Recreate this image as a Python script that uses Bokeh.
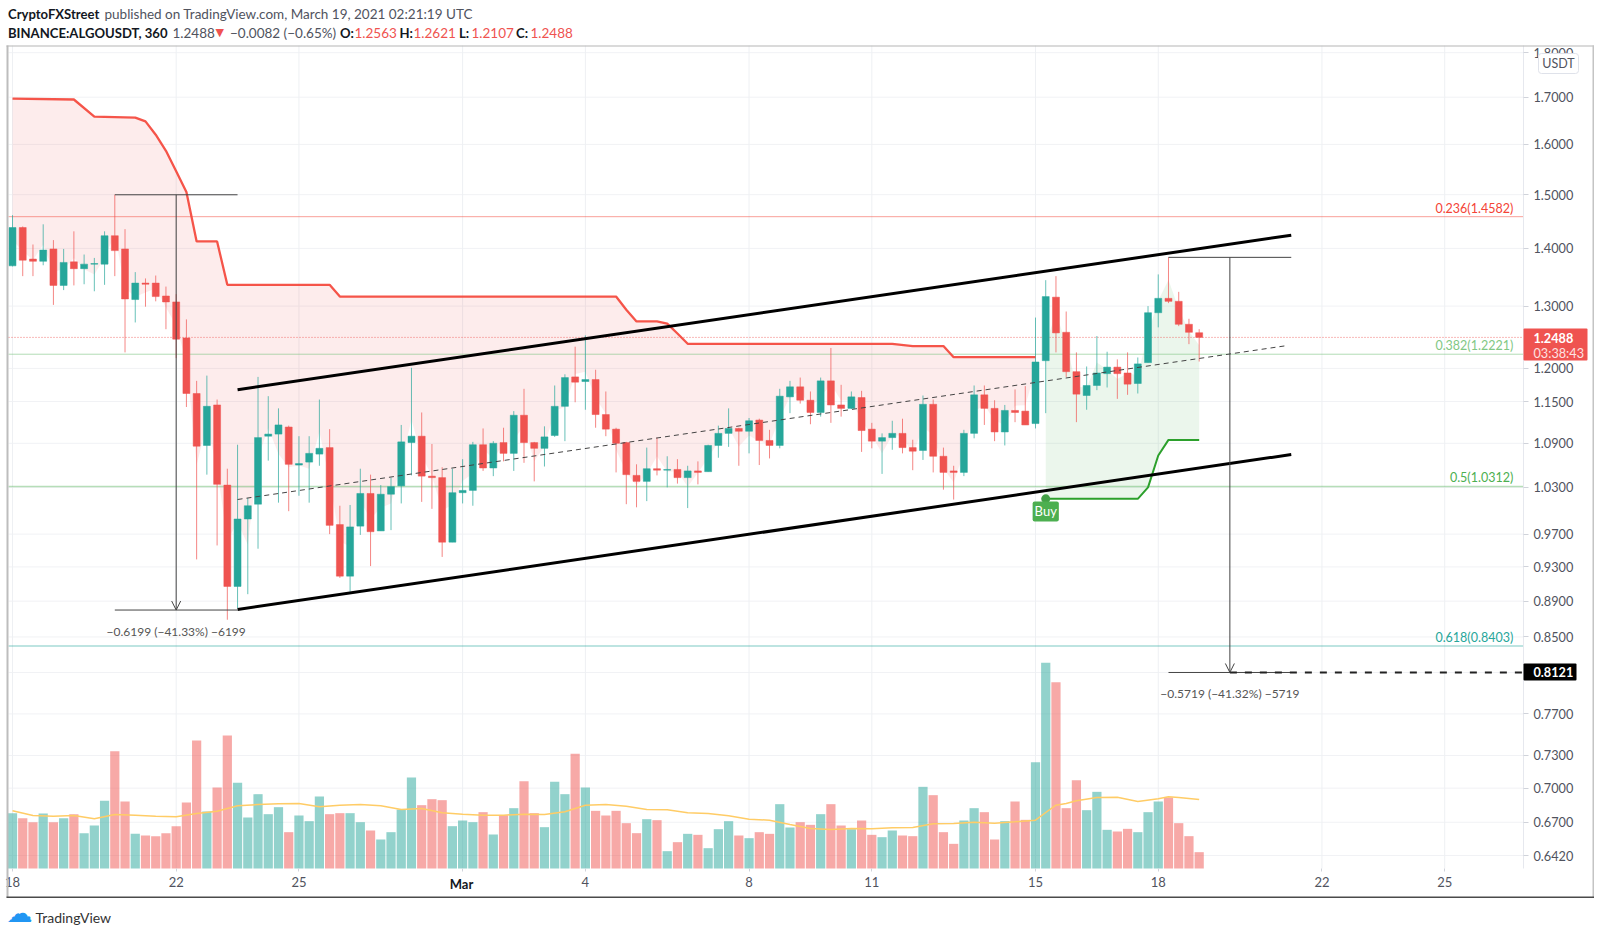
import math
from bokeh.plotting import figure
from bokeh.embed import file_html
from bokeh.resources import INLINE
from bokeh.models import (Range1d, LinearScale, FixedTicker, PrintfTickFormatter, Label,
                          BoxAnnotation, Arrow, OpenHead, ColumnDataSource)

opens = [1.369,1.438,1.381,1.377,1.399,1.335,1.376,1.364,1.372,1.372,
1.423,1.399,1.311,1.339,1.339,1.317,1.307,1.248,1.162,1.087,
1.145,1.033,.907,.989,1.008,1.100,1.103,1.113,1.060,1.064,
1.075,1.084,.982,.919,.980,1.022,.974,1.021,1.032,1.091,
1.100,1.045,1.043,.960,1.023,1.026,1.088,1.056,1.091,1.076,
1.130,1.091,1.083,1.101,1.143,1.187,1.180,1.183,1.131,1.110,
1.091,1.046,1.038,1.055,1.053,1.054,1.043,1.052,1.051,1.087,
1.104,1.111,1.107,1.123,1.094,1.087,1.157,1.172,1.152,1.134,
1.181,1.145,1.140,1.156,1.110,1.093,1.098,1.104,1.084,1.080,
1.146,1.072,1.052,1.050,1.104,1.160,1.140,1.106,1.137,1.136,
1.118,1.212,1.315,1.257,1.195,1.159,1.174,1.192,1.202,1.193,
1.177,1.209,1.289,1.313,1.308,1.270,1.2563]
highs = [1.461,1.440,1.407,1.444,1.415,1.399,1.431,1.389,1.383,1.431,
1.500,1.435,1.358,1.347,1.352,1.333,1.320,1.278,1.181,1.189,
1.153,1.055,1.088,1.016,1.187,1.158,1.140,1.115,1.100,1.100,
1.153,1.110,1.006,1.007,1.055,1.047,1.033,1.043,1.116,1.201,
1.134,1.089,1.057,1.055,1.068,1.092,1.111,1.093,1.112,1.136,
1.169,1.092,1.114,1.174,1.191,1.234,1.252,1.198,1.165,1.112,
1.092,1.061,1.084,1.098,1.072,1.068,1.059,1.065,1.088,1.115,
1.140,1.112,1.126,1.125,1.109,1.169,1.181,1.186,1.165,1.186,
1.232,1.175,1.165,1.166,1.119,1.104,1.122,1.125,1.095,1.159,
1.153,1.084,1.059,1.109,1.174,1.174,1.152,1.145,1.168,1.173,
1.281,1.344,1.351,1.291,1.225,1.203,1.251,1.226,1.214,1.225,
1.217,1.300,1.354,1.384,1.324,1.279,1.2621]
lows = [1.368,1.351,1.351,1.370,1.302,1.327,1.335,1.337,1.325,1.336,
1.351,1.225,1.273,1.299,1.308,1.262,1.216,1.142,.939,1.047,
.956,.869,.882,.898,.952,1.066,1.010,.999,1.019,1.010,
1.059,.970,.917,.901,.969,.931,.974,.975,1.009,1.046,
1.011,1.002,.942,.960,1.009,1.006,1.052,1.045,1.065,1.052,
1.063,1.038,1.058,1.099,1.093,1.149,1.138,1.112,1.100,1.050,
1.008,1.004,1.012,1.046,1.030,1.035,1.003,1.034,1.051,1.070,
1.085,1.059,1.076,1.060,1.069,1.083,1.133,1.147,1.117,1.128,
1.119,1.128,1.139,1.078,1.083,1.048,1.081,1.076,1.053,1.067,
1.050,1.027,1.014,1.045,1.097,1.116,1.093,1.087,1.120,1.116,
1.111,1.133,1.225,1.187,1.120,1.138,1.167,1.171,1.154,1.160,
1.162,1.209,1.265,1.305,1.267,1.238,1.2107]
closes = [1.438,1.379,1.377,1.397,1.335,1.375,1.364,1.372,1.373,1.423,
1.396,1.312,1.339,1.337,1.316,1.307,1.246,1.162,1.086,1.143,
1.034,.907,.989,1.006,1.098,1.103,1.116,1.061,1.062,1.076,
1.083,.981,.919,.979,1.022,.973,1.021,1.031,1.092,1.100,
1.045,1.043,.960,1.023,1.026,1.088,1.056,1.090,1.076,1.130,
1.091,1.083,1.099,1.143,1.186,1.179,1.183,1.131,1.110,1.090,
1.047,1.038,1.055,1.053,1.054,1.043,1.052,1.050,1.087,1.104,
1.111,1.107,1.122,1.094,1.087,1.158,1.172,1.152,1.134,1.181,
1.145,1.140,1.157,1.108,1.093,1.098,1.104,1.084,1.079,1.146,
1.072,1.050,1.050,1.104,1.160,1.140,1.106,1.137,1.134,1.116,
1.210,1.316,1.256,1.195,1.161,1.174,1.193,1.202,1.192,1.176,
1.207,1.289,1.313,1.308,1.270,1.257,1.2488]
volumes = [166,151,139,165,139,151,163,106,129,203,
352,201,104,99,97,106,127,198,384,171,
243,399,257,153,223,163,184,109,159,142,
216,163,166,166,139,114,87,109,177,273,
190,208,205,127,144,139,169,102,160,181,
262,166,124,260,223,344,243,173,
159,173,136,106,148,145,52,79,104,101,
61,118,142,99,91,109,104,193,123,139,
131,163,193,129,118,144,101,94,114,99,
97,245,220,109,74,144,181,169,87,142,
201,146,319,617,559,181,265,175,230,116,
111,119,109,169,201,213,136,97,49]
ma_index = [0,2,4,6,8,10,12,14,16,18,20,22,24,26,28,30,32,34,36,38,40,42,44,46,48,50,52,54,56,58,
            60,62,64,66,68,70,72,74,76,78,80,82,84,86,88,90,92,94,96,98,100,101,102,103,104,106,108,110,112,113,114,116]
ma_values = [173,159,157,159,149,162,160,157,155,165,172,188,192,194,195,185,190,192,188,177,180,167,163,160,160,163,162,170,190,192,
             187,177,176,167,165,158,148,145,132,120,117,120,119,122,123,134,135,139,136,140,145,168,190,195,203,213,214,201,209,215,213,207]
trend_down_index = [0,6,8,12,13,14,15,16,17,18,20,21,31,32,59,60,61,63,64,65,66,86,88,91,92,100]
trend_down_values = [1.697,1.695,1.658,1.656,1.648,1.620,1.587,1.546,1.505,1.4125,1.4125,1.336,1.336,1.316,1.316,1.294,1.2746,1.2746,1.271,1.255,1.2386,1.2386,1.235,1.235,1.2174,1.2174]
trend_up_index = [101,110,111,112,113,116]
trend_up_values = [1.015,1.015,1.030,1.073,1.0948,1.0948]
price_ticks = [1.8,1.7,1.6,1.5,1.4,1.3,1.2,1.15,1.09,1.03,.97,.93,.89,.85,.77,.73,.70,.67,.642]
date_ticks = [0,16,28,44,56,72,84,100,112,128,140]
date_labels = ["18","22","25","","4","8","11","15","18","22","25"]
fib_levels = [1.4582,1.2221,1.0312,0.8403]
fib_texts = ["0.236(1.4582)","0.382(1.2221)","0.5(1.0312)","0.618(0.8403)"]
fib_colors = ["#f44336","#81c784","#4caf50","#26a69a"]
fib_widths = [1,1,1.5,2]
fib_alphas = [0.5,0.6,0.4,0.3]
last_price = 1.2488
target_price = 0.8121

TEAL, RED = "#26a69a", "#ef5350"
n = len(closes)
idx = list(range(n))
colors = [TEAL if c >= o else RED for o, c in zip(opens, closes)]
hl2 = [(h + l) / 2 for h, l in zip(highs, lows)]


def fill_steps(ix, vals, lo, hi):
    out, k = [], 0
    for i in range(lo, hi + 1):
        while k + 1 < len(ix) and ix[k + 1] <= i:
            k += 1
        if k + 1 < len(ix):
            t = (i - ix[k]) / (ix[k + 1] - ix[k])
            out.append(vals[k] + t * (vals[k + 1] - vals[k]))
        else:
            out.append(vals[k])
    return out

W, H = 1594, 932
# pixel calibration of the pane: index scale and log price scale
X0, DX = 12.0, 10.23
Y0, P0, KY = 855.0, 0.642, 778.7
VOLK = 3.0
PANE_L, PANE_R, PANE_T, PANE_B = 8, 1523, 45, 868
ix = lambda px: (px - X0) / DX
pr = lambda py: P0 * math.exp((Y0 - py) / KY)
x_left, x_right = ix(PANE_L), ix(PANE_R)
p_top, p_bottom = pr(PANE_T), pr(PANE_B)

p = figure(width=W, height=H, x_range=Range1d(ix(0), ix(W)), y_range=Range1d(pr(H), pr(0)),
           y_axis_type="log", y_axis_location="right", output_backend="svg", toolbar_location=None,
           min_border_left=0, min_border_right=0, min_border_top=0, min_border_bottom=0)
p.outline_line_color = None
p.background_fill_color = "white"
p.extra_y_ranges = {"vol": Range1d((PANE_B - H) * VOLK, PANE_B * VOLK)}
p.extra_y_scales = {"vol": LinearScale()}
p.xgrid.visible = False
p.ygrid.visible = False

ax = p.yaxis[0]
ax.fixed_location = x_right
ax.bounds = (p_bottom, p_top)
ax.ticker = FixedTicker(ticks=price_ticks)
ax.formatter = PrintfTickFormatter(format="%.4f")
ax.major_label_text_font = "Lato"
ax.major_label_text_font_size = "12.7px"
ax.major_label_text_color = "#50535e"
ax.axis_line_color = "#e6e8ee"
ax.major_tick_line_color = "#d0d3da"
ax.major_tick_out = 5
ax.major_tick_in = 0
ax.minor_tick_line_color = None
ax.major_label_standoff = 5

xa = p.xaxis[0]
xa.fixed_location = p_bottom
xa.bounds = (x_left, x_right)
xa.ticker = FixedTicker(ticks=date_ticks)
xa.major_label_overrides = dict(zip(date_ticks, date_labels))
xa.major_label_text_font = "Lato"
xa.major_label_text_font_size = "13px"
xa.major_label_text_color = "#50535e"
xa.axis_line_color = None
xa.major_tick_line_color = "#d0d3da"
xa.major_tick_out = 3
xa.major_tick_in = 0
xa.minor_tick_line_color = None
xa.major_label_standoff = 5

# grid
grid_prices = price_ticks + [target_price]
p.segment([x_left] * len(grid_prices), grid_prices, [x_right] * len(grid_prices), grid_prices,
          line_color="#f1f2f5", line_width=1, level="underlay")
p.segment(date_ticks, [p_bottom] * len(date_ticks), date_ticks, [p_top] * len(date_ticks),
          line_color="#eef0f3", line_width=1, level="underlay")

# supertrend fill
p.varea(idx[:101], y1=fill_steps(trend_down_index, trend_down_values, 0, 100), y2=hl2[:101],
        fill_color=RED, fill_alpha=0.11)
p.varea(idx[101:], y1=fill_steps(trend_up_index, trend_up_values, 101, 116), y2=hl2[101:],
        fill_color="#4caf50", fill_alpha=0.11)

# volume
p.vbar(x=idx, top=volumes, bottom=0, width=0.9, fill_color=colors, fill_alpha=0.5, line_color=None, y_range_name="vol")
p.line(ma_index, ma_values, line_color="#ffcc66", line_width=1.5, y_range_name="vol")

# fib levels and last price
for lv, col, wd, al in zip(fib_levels, fib_colors, fib_widths, fib_alphas):
    p.line([x_left, x_right], [lv, lv], line_color=col, line_alpha=al, line_width=wd)
p.line([x_left, x_right], [last_price, last_price], line_color=RED, line_alpha=0.8, line_width=1, line_dash="1 2")

# candles
src = ColumnDataSource(dict(x=idx, o=opens, h=highs, l=lows, c=closes,
                            t=[max(a, b) for a, b in zip(opens, closes)],
                            b=[min(a, b) for a, b in zip(opens, closes)], col=colors))
p.segment("x", "h", "x", "l", source=src, line_color="col", line_alpha=0.7, line_width=1)
p.vbar("x", width=0.68, top="t", bottom="b", source=src, fill_color="col", line_color="col", line_width=0.5)

# supertrend lines
p.line(trend_down_index, trend_down_values, line_color="#f44336", line_width=2.3, line_alpha=0.9)
p.line(trend_up_index, trend_up_values, line_color="#2ca02c", line_width=2)
p.scatter([101], [trend_up_values[0]], size=9, fill_color="#43a047", line_color=None)

# channel
p.line([22, 125], [1.1676, 1.424], line_color="black", line_width=3)
p.line([22, 125], [0.8805, 1.0744], line_color="black", line_width=3)
p.line([22, 124.7], [1.0141, 1.236], line_color="#444444", line_width=1, line_dash="5 4")

# measures
MC = "#444444"
p.line([10, 22], [1.4998, 1.4998], line_color=MC, line_width=1)
p.line([10, 22], [0.8799, 0.8799], line_color=MC, line_width=1)
p.add_layout(Arrow(end=OpenHead(size=9, line_color=MC, line_width=1), x_start=16, y_start=1.4998, x_end=16, y_end=0.8799,
                   line_color=MC, line_width=1))
p.line([113, 125], [1.384, 1.384], line_color=MC, line_width=1)
p.line([113, 125], [target_price, target_price], line_color=MC, line_width=1)
p.add_layout(Arrow(end=OpenHead(size=9, line_color=MC, line_width=1), x_start=119, y_start=1.384, x_end=119, y_end=target_price,
                   line_color=MC, line_width=1))
p.line([119, x_right], [target_price, target_price], line_color="#222222", line_width=2, line_dash="7 8")


def dlab(x, y, text, size=12, color="#555555", align="center", baseline="middle", style="normal", **kw):
    p.add_layout(Label(x=x, y=y, text=text, text_font="Lato", text_font_size=f"{size}px", text_color=color,
                       text_align=align, text_baseline=baseline, text_font_style=style, **kw))


def slab(xpx, ypx, text, size=13, color="#131722", style="normal", align="left", font="Lato"):
    p.add_layout(Label(x=xpx, y=H - ypx, x_units="screen", y_units="screen", text=text,
                       text_font=font, text_font_size=f"{size}px", text_color=color, text_font_style=style,
                       text_align=align, text_baseline="middle"))


def sbox(x0, y0, x1, y1, fill, line=None, alpha=1.0, radius=0):
    p.add_layout(BoxAnnotation(left=x0, right=x1, top=H - y0, bottom=H - y1,
                               left_units="screen", right_units="screen", top_units="screen", bottom_units="screen",
                               fill_color=fill, fill_alpha=alpha, line_color=line, line_alpha=1.0, border_radius=radius))

dlab(16, 0.856, "\u22120.6199 (\u221241.33%) \u22126199")
dlab(119, 0.7908, "\u22120.5719 (\u221241.32%) \u22125719")
for lv, txt, col in zip(fib_levels, fib_texts, fib_colors):
    dlab(146.7, lv, txt, size=12.5, color=col, align="right", baseline="bottom", y_offset=1)

# buy tag
p.add_layout(Label(x=101, y=0.9986, text="Buy", text_font="Lato", text_font_size="13px", text_color="white",
                   text_align="center", text_baseline="middle", background_fill_color="#4caf50",
                   padding=2, border_radius=2))

# price tags
sbox(1523, 328, 1587, 360, RED, radius=1)
slab(1533, 337, "1.2488", 12.7, "white", "bold")
slab(1533, 352, "03:38:43", 12.7, "#fde2e2")
sbox(1523, 663, 1576, 680, "black", radius=1)
slab(1533, 671.5, "0.8121", 12.7, "white", "bold")
sbox(1538, 53, 1578, 73, "white", line="#dfe2ea", radius=3)
slab(1558, 63, "USDT", 12.5, "#50535e", align="center")

# chart frame
sbox(6, 45, 8, 897, "#bdbdbd")
sbox(6, 45, 1594, 46, "#b5b5b5")
sbox(1592, 45, 1594, 897, "#c4c4c4")
sbox(6, 896, 1594, 897.5, "#4a4a4a")
slab(461, 883, "Mar", 13, "#131722", "bold", "center")

# header
H1, H2 = 13.5, 32
BOLD = 13.1
slab(7.5, H1, "CryptoFXStreet", BOLD, "#131722", "bold")
slab(104, H1, "published on TradingView.com, March 19, 2021 02:21:19 UTC", 13.5, "#50535e")
slab(7.5, H2, "BINANCE:ALGOUSDT, 360", BOLD, "#131722", "bold")
slab(172, H2, "1.2488", 13.5, "#50535e")
slab(215, H2, "\u25BC", 11, RED, font="DejaVu Sans")
slab(229.5, H2, "\u22120.0082 (\u22120.65%)", 13.5, "#50535e")
for xl, lt, xv, vt in [(339.5, "O:", 354, "1.2563"), (399, "H:", 413, "1.2621"),
                       (458.5, "L:", 471, "1.2107"), (515.5, "C:", 530, "1.2488")]:
    slab(xl, H2, lt, BOLD, "#131722", "bold")
    slab(xv, H2, vt, 13.5, RED)

# logo
slab(6, 912, "\u2601", 26, "#2196f3", font="DejaVu Sans")
slab(35, 916.5, "TradingView", 14, "#333333")

open("out.html", "w").write(file_html(p, INLINE))
